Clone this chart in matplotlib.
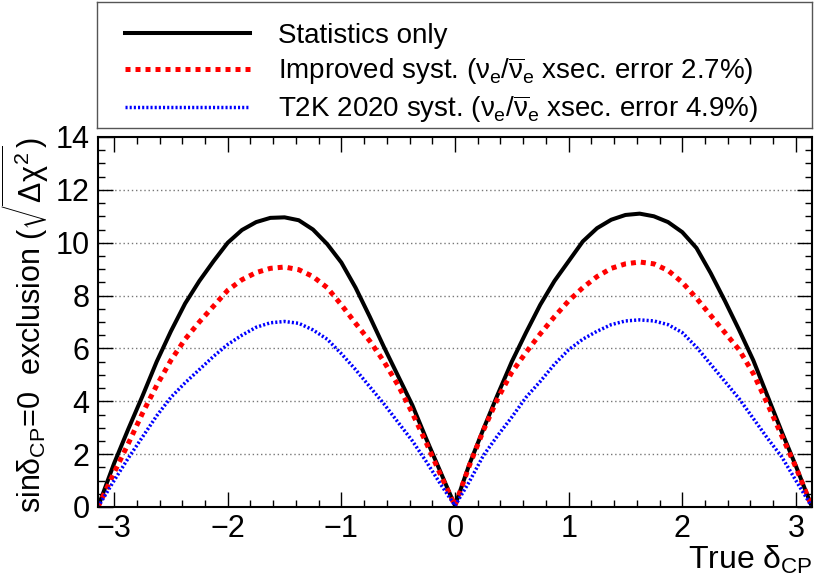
import numpy as np
import matplotlib
matplotlib.use("Agg")
import matplotlib.pyplot as plt
from matplotlib.ticker import MultipleLocator

plt.rcParams['font.family'] = ['Liberation Sans', 'DejaVu Sans']
plt.rcParams['mathtext.fontset'] = 'custom'
plt.rcParams['mathtext.rm'] = 'Liberation Sans'
plt.rcParams['mathtext.it'] = 'Liberation Sans'
plt.rcParams['mathtext.bf'] = 'Liberation Sans:bold'

PI = np.pi

# true delta_CP sample points (-pi, -3.0 ... 3.0 in steps of 0.125, pi)
dcp = [-PI] + [round(v, 3) for v in np.arange(-3.0, 3.001, 0.125)] + [PI]

# sqrt(delta chi2) at those points
stat = [0.0, 1.65, 2.95, 4.2, 5.5, 6.65, 7.7, 8.55, 9.3, 10.0, 10.48, 10.78,
        10.94, 10.96, 10.85, 10.5, 9.95, 9.25, 8.3, 7.2, 6.05, 4.95, 3.85,
        2.55, 1.3, 0.05,
        1.6, 2.95, 4.25, 5.5, 6.6, 7.65, 8.55, 9.3, 10.05, 10.55, 10.87,
        11.05, 11.1, 11.0, 10.78, 10.4, 9.8, 8.85, 7.8, 6.7, 5.55, 4.2,
        2.85, 1.55, 0.0]

impr = [0.0, 1.3, 2.4, 3.55, 4.6, 5.55, 6.35, 7.0, 7.6, 8.2, 8.6, 8.87,
        9.03, 9.08, 8.98, 8.72, 8.3, 7.65, 6.95, 6.28, 5.5, 4.6, 3.55,
        2.4, 1.2, 0.05,
        1.55, 2.9, 4.1, 5.1, 5.85, 6.55, 7.2, 7.8, 8.3, 8.72, 9.03, 9.2,
        9.27, 9.2, 8.95, 8.5, 7.9, 7.25, 6.6, 5.95, 5.05, 3.9, 2.7, 1.5, 0.0]

t2k = [0.0, 1.0, 1.85, 2.65, 3.45, 4.15, 4.7, 5.2, 5.7, 6.15, 6.5, 6.8,
       6.97, 7.02, 6.95, 6.7, 6.35, 5.8, 5.2, 4.55, 3.9, 3.2, 2.5, 1.7,
       0.85, 0.05,
       0.95, 1.95, 2.7, 3.4, 4.15, 4.75, 5.4, 5.95, 6.35, 6.65, 6.9, 7.04,
       7.08, 7.04, 6.9, 6.6, 6.05, 5.4, 4.75, 4.1, 3.35, 2.6, 1.9, 1.0, 0.0]

labels = ["Statistics only",
          r"Improved syst. ($\nu_{e}/\overline{\nu}_{e}$ xsec. error 2.7%)",
          r"T2K 2020 syst. ($\nu_{e}/\overline{\nu}_{e}$ xsec. error 4.9%)"]

W, H = 815, 579
fig = plt.figure(figsize=(W / 100, H / 100), dpi=100)
ax = fig.add_axes([98 / W, 1 - 507 / H, 714 / W, 370 / H])

l1, = ax.plot(dcp, stat, color='black', lw=2.9, solid_joinstyle='round')
l2, = ax.plot(dcp, impr, color='#ff0000', lw=3.6, linestyle=(0, (1, 1)))
l3, = ax.plot(dcp, t2k, color='#0000ff', lw=2.5, linestyle=(0, (0.6, 0.6)))

ax.set_xlim(-PI, PI)
ax.set_ylim(0, 14)
ax.xaxis.set_major_locator(MultipleLocator(1))
ax.xaxis.set_minor_locator(MultipleLocator(0.2))
ax.yaxis.set_major_locator(MultipleLocator(2))
ax.yaxis.set_minor_locator(MultipleLocator(0.5))
ax.tick_params(which='both', direction='in', top=True, right=True,
               labelsize=22, width=1.0)
ax.tick_params(which='major', length=10.5)
ax.tick_params(which='minor', length=5)
ax.tick_params(axis='y', pad=6)
ax.tick_params(axis='x', pad=5)
for s in ax.spines.values():
    s.set_linewidth(1.5)

for yv in range(2, 14, 2):
    ax.axhline(yv, color='#777777', lw=1.0, linestyle=(0, (1, 2)), zorder=0)

ax.set_xlabel(r"True $\delta_{\rm CP}$", fontsize=23, loc='right', labelpad=0)
ax.set_ylabel(r"sin$\delta_{\rm CP}$=0  exclusion ($\sqrt{\Delta\chi^{2}}$)",
              fontsize=22, loc='top', labelpad=3)

# legend box
lax = fig.add_axes([97 / W, 1 - 128 / H, 715 / W, 126 / H])
lax.set_xticks([])
lax.set_yticks([])
for s in lax.spines.values():
    s.set_linewidth(1.0)
    s.set_color('#555555')
lax.legend([l1, l2, l3], labels, loc='center left', bbox_to_anchor=(0, 0.43),
           frameon=False, fontsize=20, handlelength=4.5, handletextpad=1.0,
           labelspacing=0.21, borderaxespad=0.6)

fig.savefig('out.png', dpi=100)
